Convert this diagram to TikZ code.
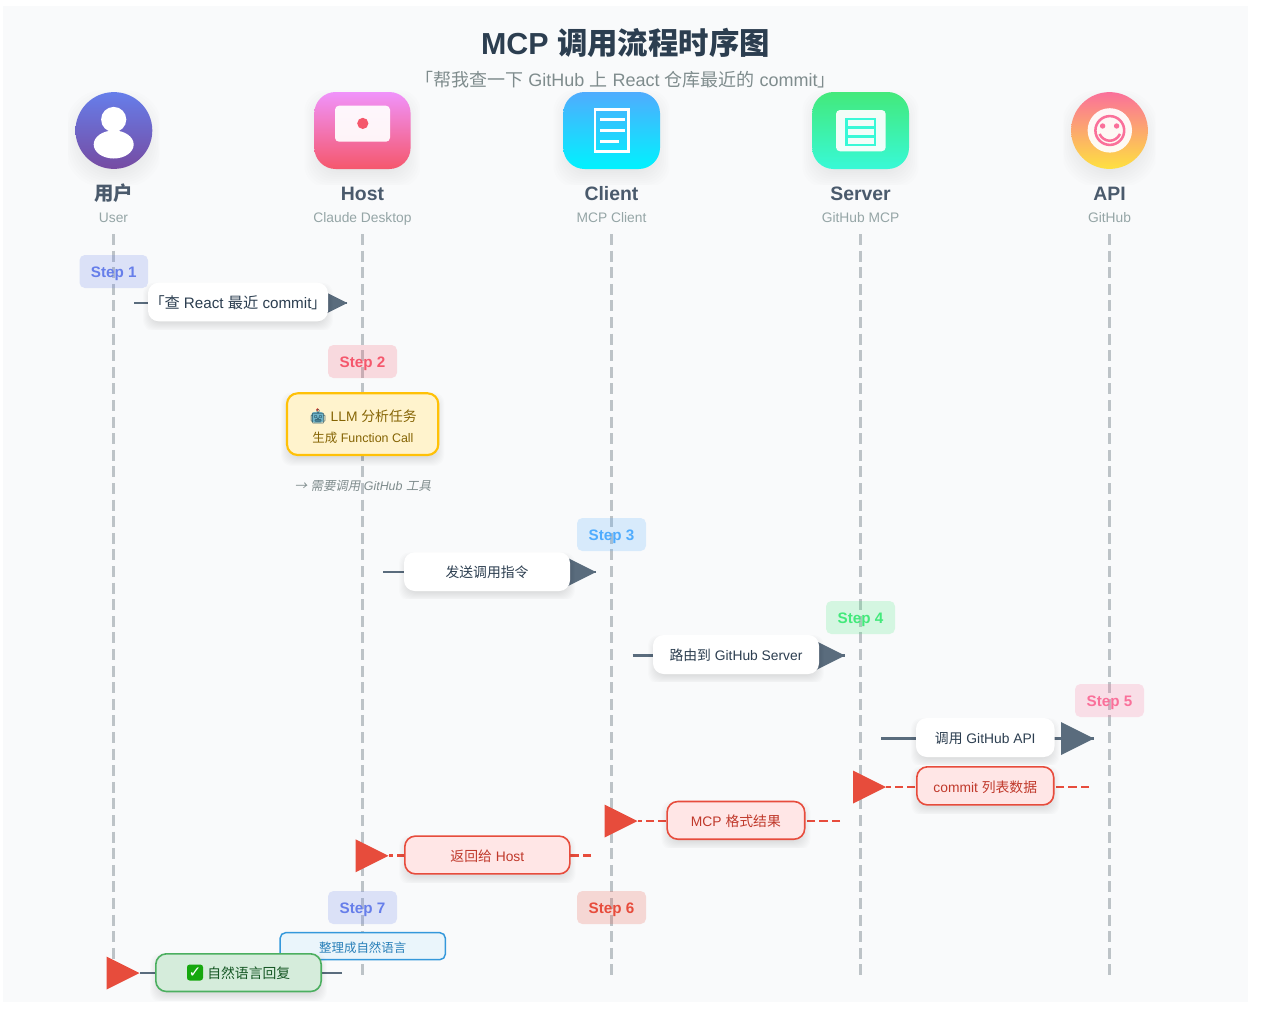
\documentclass[tikz,border=0pt]{standalone}
\usepackage{fontspec}
\setmainfont{Liberation Sans}
\newfontfamily\cjk[RawFeature=+palt]{Noto Sans CJK SC}
\newfontfamily\cjkplain{Noto Sans CJK SC}
\newfontfamily\cjki[FakeSlant=0.2]{Noto Sans CJK SC}
\newfontfamily\emojif{Noto Emoji}
\newfontfamily\dejavu{DejaVu Sans}
\newcommand\C[1]{{\cjkplain #1}}
\newcommand\CP[1]{{\cjk #1}}
\definecolor{panelbg}{HTML}{F9FAFB}
\definecolor{titlec}{HTML}{2C3E50}
\definecolor{subc}{HTML}{7F8C8D}
\definecolor{namec}{HTML}{4A5A6C}
\definecolor{lightc}{HTML}{95A5A6}
\definecolor{lifec}{HTML}{BDC3C7}
\definecolor{greyc}{HTML}{5A6C7D}
\definecolor{redc}{HTML}{E74C3C}
\definecolor{s1}{HTML}{667EEA}
\definecolor{s2}{HTML}{F5576C}
\definecolor{s3}{HTML}{4FACFE}
\definecolor{s4}{HTML}{43E97B}
\definecolor{s5}{HTML}{FA709A}
\definecolor{s6}{HTML}{E74C3C}
\definecolor{gradUser}{HTML}{764BA2}
\definecolor{gradHost}{HTML}{F093FB}
\definecolor{gradClient}{HTML}{00F2FE}
\definecolor{gradServer}{HTML}{38F9D7}
\definecolor{gradApi}{HTML}{FEE140}
\definecolor{retfill}{HTML}{FFE6E6}
\definecolor{retc}{HTML}{C0392B}
\definecolor{llmfill}{HTML}{FFF3CD}
\definecolor{llmline}{HTML}{FFC107}
\definecolor{llmtext}{HTML}{856404}
\definecolor{robotc}{HTML}{6FB3C8}
\definecolor{robotd}{HTML}{1F4A5A}
\definecolor{blufill}{HTML}{EAF5FB}
\definecolor{bluline}{HTML}{3498DB}
\definecolor{blutext}{HTML}{2980B9}
\definecolor{grnfill}{HTML}{D5ECDB}
\definecolor{grnline}{HTML}{4CAF60}
\definecolor{grntext}{HTML}{155724}
\definecolor{chk}{HTML}{16A80E}
\tikzset{
  x=0.75pt,y=-0.75pt,
  lifeline/.style={draw=lifec,line width=2pt,dash pattern=on 8.3pt off 4.15pt},
  actorname/.style={font=\fontsize{14.55}{17}\selectfont\bfseries,text=namec,inner sep=0pt,text height=12pt,text depth=1.5pt},
  actorsub/.style={font=\fontsize{10.35}{13}\selectfont,text=lightc,inner sep=0pt,text height=9.4pt,text depth=1.6pt},
  badge/.style={rounded corners=4pt,fill=#1,fill opacity=.2,text opacity=1,text=#1,font=\fontsize{11.4}{14}\selectfont\bfseries,text height=9.8pt,text depth=1pt},
  msgbox/.style={rounded corners=8pt,fill=white,text=titlec,font=\fontsize{10.37}{13}\selectfont,text height=10.5pt,text depth=1.1pt},
  retbox/.style={rounded corners=8pt,fill=retfill,draw=redc,line width=1.2pt,text=retc,font=\fontsize{10.37}{13}\selectfont,text height=10.5pt,text depth=1.1pt},
  solidline/.style={draw=greyc,line width=2pt},
  retline/.style={draw=redc,line width=2.1pt,dash pattern=on 6.2pt off 3.1pt},
  iconwhite/.style={fill=white,fill opacity=.93,inner sep=0pt},
}
\newcommand\bx[7]{%
  \pgfmathsetmacro\cxx{(#3+#5)/2}\pgfmathsetmacro\cyy{(#4+#6)/2}%
  \pgfmathsetmacro\ww{(#5-#3)*.75}\pgfmathsetmacro\hh{(#6-#4)*.75}%
  \node[inner sep=0pt,minimum width=\ww pt,minimum height=\hh pt,#2] (#1) at (\cxx,\cyy) {#7};}
\newcommand\softsh[5]{%
  \pgfmathsetmacro\mx{(#3-#1)*.1}\pgfmathsetmacro\my{(#4-#2)*.2}%
  \begin{scope}
  \clip (#1-\mx,#2-\my) rectangle (#3+\mx,#4+\my);
  \foreach \k in {-3,-2,...,5}{%
    \fill[black,fill opacity=.012,rounded corners=#5]
      (#1-\k,#2+5-\k) rectangle (#3+\k,#4+5+\k);}
  \end{scope}}
\newcommand\softicon[5]{%
  \pgfmathsetmacro\mx{(#3-#1)*.1}\pgfmathsetmacro\my{(#4-#2)*.2}%
  \begin{scope}
  \clip (#1-\mx,#2-\my) rectangle (#3+\mx,#4+\my);
  \foreach \k in {-8,-6,...,10}{%
    \fill[black,fill opacity=.0075,rounded corners=#5]
      (#1-\k,#2+8-\k) rectangle (#3+\k,#4+8+\k);}
  \end{scope}}
% arrowhead: tip at the named coordinate, pointing right
\newcommand\head[2]{\fill[#2] (#1) -- ++(-33,-16.5) -- ++(0,33) -- cycle;}
\begin{document}
\begin{tikzpicture}
\useasboundingbox (0,0) rectangle (1280,1025);
\bx{panel}{fill=panelbg}{3}{6}{1248}{1002}{}
% title
\node[inner sep=0pt,text=titlec,font=\fontsize{22.8}{27}\selectfont\bfseries] (title) at (625.5,43) {MCP \C{调用流程时序图}};
\node[inner sep=0pt,text=subc,font=\fontsize{13.5}{18}\selectfont] (subtitle) at (625.5,80) {\CP{「帮我查一下} GitHub \C{上} React \C{仓库最近的} commit\CP{」}};
% lifelines
\foreach \n/\xx in {1/113.5,2/362.5,3/611.5,4/860.5,5/1109.5}{
  \coordinate (l\n s) at (\xx,234);
  \coordinate (l\n e) at (\xx,975);
  \draw[lifeline] (l\n s) -- (l\n e);
}
% icon shadows
\softicon{75.5}{92}{152}{169}{28pt}
\softicon{314.3}{92}{410.6}{169}{16pt}
\softicon{563.3}{92}{660}{169}{16pt}
\softicon{812.2}{92}{909}{169}{16pt}
\softicon{1071}{92}{1148}{169}{28pt}
% icons
\bx{user}{circle,minimum size=57.6pt,top color=s1,bottom color=gradUser}{75.5}{92}{152.3}{169}{}
\fill[white] (113.7,119.5) circle (12.6);
\fill[white] (113.7,144.5) ellipse (20 and 14);
\bx{host}{rounded corners=16pt,top color=gradHost,bottom color=s2}{314.3}{92}{410.6}{169}{}
\fill[iconwhite,rounded corners=3pt] (335,105.7) rectangle (390,141.7);
\fill[s2] (362.8,123.4) circle (5.6);
\bx{client}{rounded corners=16pt,top color=s3,bottom color=gradClient}{563.3}{92}{660}{169}{}
\draw[white,line width=2.1pt] (595,109.8) rectangle (628.3,151.2);
\draw[white,line width=2pt] (600,119.3) -- (624.5,119.3) (600,130.3) -- (624.5,130.3) (600,141.7) -- (618.8,141.7);
\bx{server}{rounded corners=16pt,top color=s4,bottom color=gradServer}{812.2}{92}{909}{169}{}
\fill[iconwhite,rounded corners=3pt] (836,110) rectangle (885.7,151.3);
\draw[gradServer,line width=2pt] (846.3,119) rectangle (875,145) (846.3,127.7) -- (875,127.7) (846.3,136.3) -- (875,136.3);
\bx{api}{circle,minimum size=57.6pt,top color=s5,bottom color=gradApi}{1071}{92}{1148}{169}{}
\fill[iconwhite] (1109.8,130.4) circle (22.2);
\draw[s5,line width=1.9pt] (1109.8,130.5) circle (14.4);
\fill[s5] (1102.6,126) circle (2.7) (1116.6,126) circle (2.7);
\draw[s5,line width=1.9pt] (1099.5,134) .. controls (1104,143) and (1115.5,143) .. (1120,134);
% actor labels
\node[actorname] (n1) at (113.5,193) {\C{用户}};
\node[actorsub] (u1) at (113.5,217) {User};
\node[actorname] (n2) at (362.5,193) {Host};
\node[actorsub] (u2) at (362.5,217) {Claude Desktop};
\node[actorname] (n3) at (611.5,193) {Client};
\node[actorsub] (u3) at (611.5,217) {MCP Client};
\node[actorname] (n4) at (860.5,193) {Server};
\node[actorsub] (u4) at (860.5,217) {GitHub MCP};
\node[actorname] (n5) at (1109.5,193) {API};
\node[actorsub] (u5) at (1109.5,217) {GitHub};
% badges
\bx{b1}{badge=s1}{79.5}{255}{148}{288}{Step 1}
\bx{b2}{badge=s2}{328}{345}{397}{378}{Step 2}
\bx{b3}{badge=s3}{577}{518}{646}{551}{Step 3}
\bx{b4}{badge=s4}{826}{601}{895}{634}{Step 4}
\bx{b5}{badge=s5}{1075}{684}{1144}{717}{Step 5}
\bx{b6}{badge=s6}{577}{891}{646}{924}{Step 6}
\bx{b7}{badge=s1}{328}{891}{397}{924}{Step 7}
% solid calls
\coordinate (a1s) at (134.3,303); \coordinate (a1t) at (347.3,303);
\draw[solidline] (a1s) -- (a1t); \head{a1t}{greyc}
\softsh{148}{282.7}{328}{321.3}{8pt}
\bx{m1}{msgbox,font=\fontsize{11.4}{14}\selectfont}{148}{282.7}{328}{321.3}{\CP{「}\C{查} React \C{最近} commit\CP{」}}
% LLM
\softsh{286}{392.3}{439.3}{456}{8pt}
\bx{llm}{rounded corners=8pt,fill=llmfill,draw=llmline,line width=1.6pt}{287}{393.3}{438.3}{455}{}
\fill[robotc,rounded corners=2pt] (311.5,412) rectangle (323.5,422.5);
\fill[redc] (317.5,409.5) circle (1.5);
\node[inner sep=0pt,text=llmtext,font=\fontsize{10.37}{13}\selectfont,text height=10.5pt,text depth=1.1pt] (llma) at (363,415.3) {{\emojif\textcolor{robotd}{🤖}} LLM \C{分析任务}};
\node[inner sep=0pt,text=llmtext,font=\fontsize{9.34}{12}\selectfont,text height=10pt,text depth=1pt] (llmb) at (363,436.4) {\C{生成} Function Call};
\node[inner sep=0pt,text=subc,font=\fontsize{9.34}{12}\selectfont\itshape] (note) at (362.8,485.7) {{\cjki →} {\cjki 需要调用} GitHub {\cjki 工具}};
\coordinate (a3s) at (383.3,572); \coordinate (a3t) at (596,572);
\draw[solidline] (a3s) -- (a3t); \head{a3t}{greyc}
\softsh{404}{552.3}{570}{591}{8pt}
\bx{m3}{msgbox}{404}{552.3}{570}{591}{\C{发送调用指令}}
\coordinate (a4s) at (632.5,655.5); \coordinate (a4t) at (845,655.5);
\draw[solidline] (a4s) -- (a4t); \head{a4t}{greyc}
\softsh{653}{635}{819}{674}{8pt}
\bx{m4}{msgbox}{653}{635}{819}{674}{\C{路由到} GitHub Server}
\coordinate (a5s) at (881.4,738.5); \coordinate (a5t) at (1094,738.5);
\draw[solidline] (a5s) -- (a5t); \head{a5t}{greyc}
\softsh{916}{718}{1054.5}{757}{8pt}
\bx{m5}{msgbox}{916}{718}{1054.5}{757}{\C{调用} GitHub API}
% returns
\coordinate (a6s) at (1089,787); \coordinate (a6t) at (886,787);
\draw[retline] (a6s) -- (a6t); \head{a6t}{redc}
\softsh{916}{766}{1054.5}{805.7}{8pt}
\bx{m6}{retbox}{916.8}{766.8}{1053.7}{804.9}{commit \C{列表数据}}
\coordinate (a7s) at (840,821); \coordinate (a7t) at (637.5,821);
\draw[retline] (a7s) -- (a7t); \head{a7t}{redc}
\softsh{666.3}{800.7}{805.5}{840}{8pt}
\bx{m7}{retbox}{667.1}{801.5}{804.7}{839.2}{MCP \C{格式结果}}
\coordinate (a8s) at (591,855.8); \coordinate (a8t) at (388.5,855.8);
\draw[retline] (a8s) -- (a8t); \head{a8t}{redc}
\softsh{404}{835.3}{570.7}{874.7}{8pt}
\bx{m8}{retbox}{404.8}{836.1}{569.9}{873.9}{\C{返回给} Host}
% final
\bx{m9}{rounded corners=4pt,fill=blufill,draw=bluline,line width=1.1pt,text=blutext,font=\fontsize{9.34}{12}\selectfont,text height=11pt,text depth=1pt}{280.2}{932.7}{445.3}{959.6}{\C{整理成自然语言}}
\coordinate (a10s) at (342,973); \coordinate (a10t) at (139.5,973);
\draw[solidline] (a10s) -- (a10t); \head{a10t}{redc}
\softsh{155}{953}{322}{992.3}{8pt}
\bx{m10}{rounded corners=8pt,fill=grnfill,draw=grnline,line width=1.2pt}{155.8}{953.8}{321.2}{991.5}{}
\node[inner sep=0pt,anchor=west,text=grntext,font=\fontsize{10.37}{13}\selectfont] (m10t) at (207,972.7) {\C{自然语言回复}};
\node[fill=chk,rounded corners=2pt,minimum size=12pt,inner sep=0pt,text=white,font=\dejavu\fontsize{11.5}{12}\selectfont\bfseries] (m10c) at (195,972.5) {✓};
\end{tikzpicture}
\end{document}
